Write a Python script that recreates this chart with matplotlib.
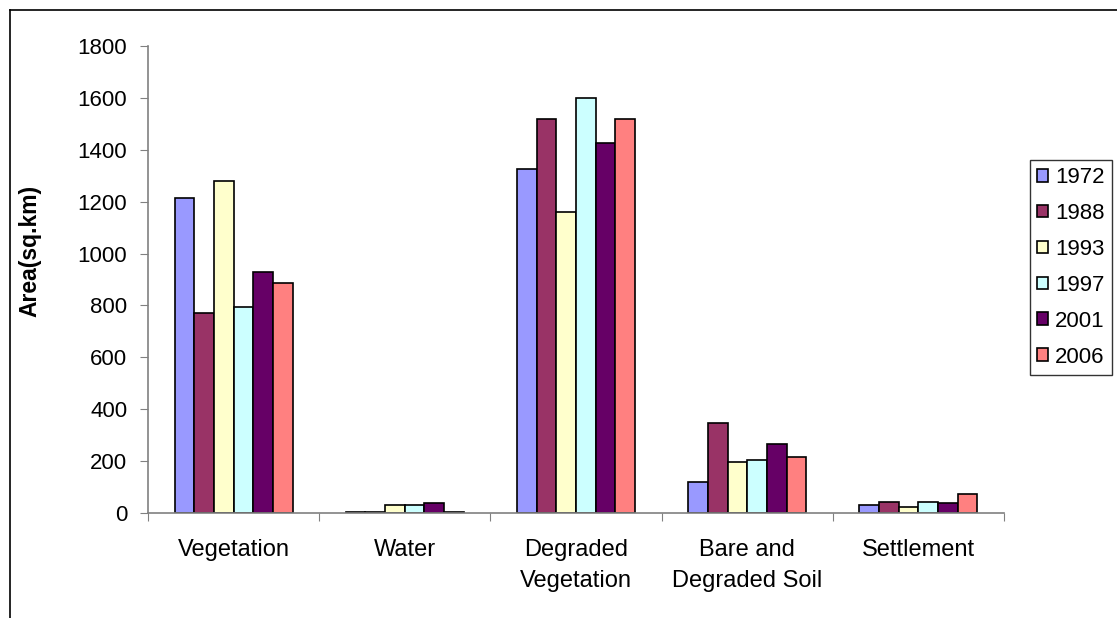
import numpy as np
import matplotlib.pyplot as plt
from matplotlib.lines import Line2D

plt.rcParams['font.family'] = ['Liberation Sans', 'DejaVu Sans']

# data
categories = ["Vegetation", "Water", "Degraded\nVegetation", "Bare and\nDegraded Soil", "Settlement"]
years = ["1972", "1988", "1993", "1997", "2001", "2006"]
v1972 = [1215, 4, 1325, 118, 30]
v1988 = [770, 4, 1520, 345, 44]
v1993 = [1280, 30, 1160, 198, 22]
v1997 = [795, 30, 1600, 205, 44]
v2001 = [930, 38, 1425, 265, 38]
v2006 = [885, 5, 1520, 214, 74]
series = [v1972, v1988, v1993, v1997, v2001, v2006]
colors = ["#9999FF", "#993366", "#FFFFCC", "#CCFFFF", "#660066", "#FF8080"]

fig = plt.figure(figsize=(11.17, 6.18), dpi=100)
W, H = 1117, 618
ax = fig.add_axes([148 / W, 1 - 513 / H, (1004 - 148) / W, (513 - 46) / H])

x = np.arange(len(categories))
n = len(series)
bw = 0.69 / n
for i, (vals, c, yr) in enumerate(zip(series, colors, years)):
    ax.bar(x - 0.345 + bw * (i + 0.5), vals, width=bw, color=c,
           edgecolor="black", linewidth=1.2, label=yr, zorder=2)

ax.set_xlim(-0.5, len(categories) - 0.5)
ax.set_ylim(0, 1800)
ax.set_yticks(np.arange(0, 1801, 200))
ax.set_xticks(np.arange(-0.5, len(categories), 1.0))
ax.set_xticklabels([])
ax.set_xticks(x, minor=True)
ax.set_xticklabels(categories, minor=True, fontsize=17, linespacing=1.5)
ax.tick_params(axis="x", which="minor", length=0, pad=19)
ax.tick_params(axis="x", which="major", length=6, color="#808080", direction="out")
ax.tick_params(axis="y", length=6, color="#808080", direction="out", labelsize=16, pad=9)

for s in ["top", "right"]:
    ax.spines[s].set_visible(False)
for s in ["left", "bottom"]:
    ax.spines[s].set_color("#808080")
    ax.spines[s].set_linewidth(1.2)

ax.set_ylabel("Area(sq.km)", fontsize=16.5, fontweight="bold", labelpad=26,
              y=(513 - 251) / 467)

leg = fig.legend(loc="upper left", bbox_to_anchor=(1030 / W, 1 - 160 / H),
                 fontsize=16, frameon=True, fancybox=False, edgecolor="black",
                 handlelength=0.5, handleheight=0.5, handletextpad=0.3,
                 labelspacing=0.67, borderpad=0.32, borderaxespad=0)
leg.get_frame().set_linewidth(1.0)

# outer chart border (left and top edges visible)
fig.add_artist(Line2D([10 / W, 10 / W], [0, 1 - 10 / H], color="black", lw=1.2,
                      transform=fig.transFigure))
fig.add_artist(Line2D([10 / W, 1], [1 - 10 / H, 1 - 10 / H], color="black", lw=1.2,
                      transform=fig.transFigure))

fig.savefig("out.png", dpi=100)
